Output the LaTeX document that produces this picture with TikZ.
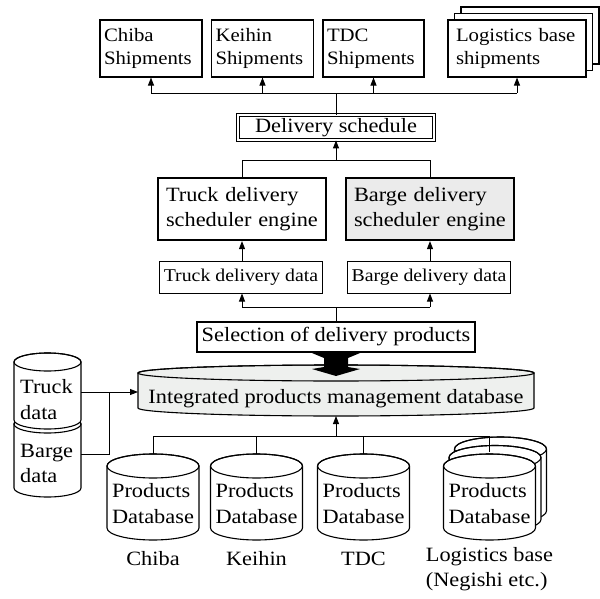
\documentclass[tikz,border=0pt]{standalone}
\usepackage{fontspec}
\setmainfont{Liberation Serif}[FakeStretch=1.1]
\usetikzlibrary{arrows.meta}
\definecolor{intfill}{RGB}{238,240,238}
\definecolor{engfill}{RGB}{235,235,235}
\newcommand\bigf{\fontsize{20.3}{25.5}\selectfont}
\newcommand\smf{\fontsize{18.9}{23}\selectfont}
\newcommand\dataf{\fontsize{18}{22}\selectfont}
\newcommand\mycyl[6]{%
 \filldraw[cyl, fill=#6] ({#1-#4},{-#2}) -- ({#1-#4},{-#3}) arc[start angle=180,end angle=360,x radius=#4pt,y radius=#5pt] -- ({#1+#4},{-#2}) arc[start angle=0,end angle=180,x radius=#4pt,y radius=#5pt] -- cycle;
 \draw[cyl] (#1,{-#2}) ellipse[x radius=#4pt, y radius=#5pt];
}
\tikzset{
 cyl/.style={line width=1.1pt},
 conn/.style={line width=0.9pt},
 arr/.style={conn, -{Triangle[length=8pt,width=6pt]}},
 topbox/.style={draw, fill=white, line width=1.1pt, inner ysep=0pt, align=left, font=\smf},
 engbox/.style={draw, line width=2.2pt, inner ysep=0pt, align=left, font=\bigf},
 databox/.style={draw, line width=1pt, inner sep=0pt, font=\dataf},
 dbtext/.style={align=left, font=\bigf, inner sep=0pt},
 lbl/.style={font=\bigf, inner sep=0pt}
}
\begin{document}
\begin{tikzpicture}[x=1pt,y=1pt]
\useasboundingbox (0,0) rectangle (600,-599);

% top shipment boxes
\node[topbox, minimum width=102pt, minimum height=57pt, text width=94pt, inner xsep=4pt] (chiba) at (151,-48.5) {Chiba\\Shipments};
\node[topbox, minimum width=102pt, minimum height=57pt, text width=94pt, inner xsep=4pt] (keihin) at (262.5,-48.5) {Keihin\\Shipments};
\node[topbox, minimum width=101pt, minimum height=57pt, text width=93pt, inner xsep=4pt] (tdc) at (373.5,-48.5) {TDC\\Shipments};
\draw[line width=1.1pt, fill=white] (461,-7) rectangle (599,-64);
\draw[line width=1.1pt, fill=white] (454.5,-13.5) rectangle (592.5,-70.5);
\node[topbox, minimum width=138pt, minimum height=57pt, text width=122pt, inner xsep=8pt] (logi) at (517,-48.5) {Logistics base\\shipments};

% delivery schedule
\node[draw, double, double distance=1.8pt, line width=0.8pt, minimum width=196pt, minimum height=25pt, inner sep=0pt, font=\bigf] (deliv) at (336,-127.5) {Delivery schedule};

% engines
\node[engbox, minimum width=168pt, minimum height=62pt, text width=152pt, inner xsep=8pt] (truckeng) at (242,-209) {Truck delivery\\scheduler engine};
\node[engbox, fill=engfill, minimum width=168pt, minimum height=62pt, text width=152pt, inner xsep=8pt] (bargeeng) at (430,-209) {Barge delivery\\scheduler engine};

% delivery data
\node[databox, minimum width=163pt, minimum height=32pt] (truckdata) at (241,-277) {Truck delivery data};
\node[databox, minimum width=163pt, minimum height=32pt] (bargedata) at (429,-277) {Barge delivery data};

% selection
\node[draw, line width=1.8pt, minimum width=278pt, minimum height=30pt, inner sep=0pt, font=\bigf] (sel) at (336,-337) {Selection of delivery products};

\coordinate (tx) at (242,0);
\coordinate (bx) at (430,0);

\draw[conn] (sel.north) -- (336,-307) coordinate (j1);
\draw[conn] (j1 -| tx) -- (j1 -| bx);
\draw[arr] (j1 -| tx) -- (truckdata.south -| tx);
\draw[arr] (j1 -| bx) -- (bargedata.south -| bx);
\draw[arr] (truckdata.north -| tx) -- (truckeng.south -| tx);
\draw[arr] (bargedata.north -| bx) -- (bargeeng.south -| bx);
\coordinate (j2) at (336,-160);
\draw[conn] (truckeng.north -| tx) -- (j2 -| tx) -- (j2 -| bx) -- (bargeeng.north -| bx);
\draw[arr] (j2) -- (deliv.south);
\draw[conn] (deliv.north) -- (336,-93) coordinate (j3);
\draw[conn] (j3 -| chiba) -- (j3 -| logi);
\foreach \n in {chiba,keihin,tdc,logi} {\draw[arr] (j3 -| \n) -- (\n.south);}

% integrated database
\mycyl{336}{373}{408}{198}{8}{intfill}
\node[lbl] (intdb) at (336,-399) {Integrated products management database};
\coordinate (intleft) at (138,-392);
\coordinate (intbot) at (336,-416);

% thick double arrow
\fill (312,-353) -- (360,-353) -- (348,-358) -- (348,-367) -- (360,-369) -- (336,-376) -- (312,-369) -- (324,-367) -- (324,-358) -- cycle;

% truck / barge data cylinders
\mycyl{47.5}{424}{488}{33.5}{9}{white}
\mycyl{47.5}{362}{420}{33.5}{9}{white}
\node[dbtext, anchor=west] (trucktxt) at (20,-399.5) {Truck\\data};
\node[dbtext, anchor=west] (bargetxt) at (20,-463.5) {Barge\\data};
\coordinate (truckout) at (81,-392);
\coordinate (bargeout) at (81,-454);
\coordinate (bargejoin) at (109,-392);
\draw[arr] (truckout) -- (intleft);
\draw[conn] (bargeout) -| (bargejoin);

% products databases
\mycyl{153}{466}{528}{46}{12}{white}
\mycyl{256.5}{466}{528}{46}{12}{white}
\mycyl{363.5}{466}{528}{46}{12}{white}
\mycyl{500.5}{449}{511}{46}{12}{white}
\mycyl{495}{457.5}{519.5}{46}{12}{white}
\mycyl{489.5}{466}{528}{46}{12}{white}
\node[dbtext] (chibadb) at (153,-503.5) {Products\\Database};
\node[dbtext] (keihindb) at (256.5,-503.5) {Products\\Database};
\node[dbtext] (tdcdb) at (363.5,-503.5) {Products\\Database};
\node[dbtext] (logidb) at (489.5,-503.5) {Products\\Database};
\coordinate (chibatop) at (153,-454);
\coordinate (keihintop) at (256.5,-454);
\coordinate (tdctop) at (363.5,-454);
\coordinate (logitop) at (489.5,-452);
\coordinate (j4) at (336,-436);
\draw[conn] (j4 -| chibatop) -- (j4 -| logitop);
\foreach \n in {chibatop,keihintop,tdctop,logitop} {\draw[conn] (j4 -| \n) -- (\n);}
\draw[arr] (j4) -- (intbot);

% labels
\node[lbl, anchor=base] (lchiba) at (153,-565) {Chiba};
\node[lbl, anchor=base] (lkeihin) at (256.5,-565) {Keihin};
\node[lbl, anchor=base] (ltdc) at (363.5,-565) {TDC};
\node[lbl, align=left] (llogi) at (489.5,-569) {Logistics base\\(Negishi etc.)};
\end{tikzpicture}
\end{document}
